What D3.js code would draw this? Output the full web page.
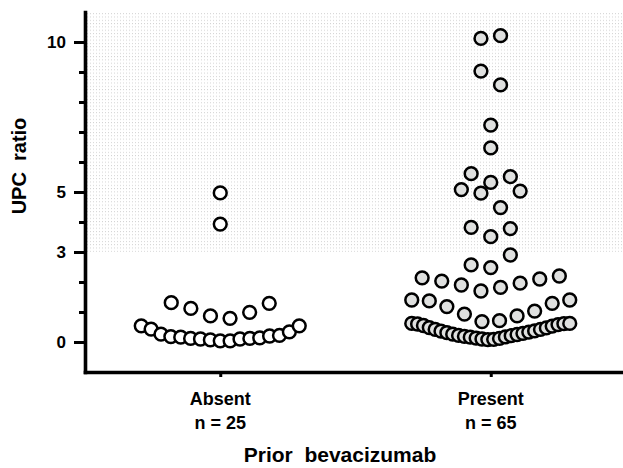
<!DOCTYPE html>
<html>
<head>
  <meta charset="utf-8">
  <style>
    body { margin: 0; background: #fff; }
    svg { display: block; }
    text { font-family: "Liberation Sans", Arial, sans-serif; font-weight: bold; fill: #000; }
    .axis path, .axis line { stroke: #000; }
    .dot { stroke: #000; stroke-width: 2.5; }
  </style>
</head>
<body>
<svg width="623" height="468"></svg>
<script src="https://cdn.jsdelivr.net/npm/d3@7"></script>
<script>

  // groups on the x axis, with the n shown under each label
  var groups = ["Absent", "Present"]
  var groupN = [25, 65]

  // UPC ratio values, one inner array per row of dots, read left to right
  var absentRows = [
    [0.54, 0.43, 0.26, 0.18, 0.16, 0.12, 0.10, 0.07, 0.04, 0.04, 0.10, 0.12, 0.14, 0.20, 0.22, 0.34, 0.54],
    [1.31, 1.12, 0.87, 0.79, 0.99, 1.29],
    [3.93],
    [4.97]
  ]
  var presentRows = [
    [0.62, 0.60, 0.55, 0.48, 0.42, 0.36, 0.31, 0.26, 0.22, 0.19, 0.16, 0.13, 0.10, 0.08,
     0.09, 0.12, 0.17, 0.21, 0.25, 0.29, 0.33, 0.37, 0.42, 0.47, 0.53, 0.58, 0.61, 0.62],
    [1.40, 1.37, 1.18, 0.93, 0.68, 0.71, 0.87, 1.03, 1.29, 1.40],
    [2.14, 2.03, 1.90, 1.70, 1.82, 1.96, 2.10, 2.20],
    [2.57, 2.48, 2.90],
    [3.82, 3.51, 3.78],
    [5.08, 4.96, 4.48, 5.03],
    [5.61, 5.32, 5.51],
    [6.47],
    [7.23],
    [9.03, 8.57],
    [10.12, 10.21]
  ]

  var majorTicks = [0, 3, 5, 10]
  var minorTicks = [1, 2, 4, 6, 7, 8, 9]
  var yDomain = [-1, 11]
  var shadeFrom = 3

  var svg = d3.select("svg"),
      plotLeft = 85, plotTop = 12, plotBottom = 372, plotRight = 623

  var y = d3.scaleLinear().domain(yDomain).range([plotBottom, plotTop])
  var x = d3.scalePoint().domain(groups).range([plotLeft, 626]).padding(0.5)

  // dotted shading of the upper band
  var pat = svg.append("defs").append("pattern")
      .attr("id", "dots")
      .attr("patternUnits", "userSpaceOnUse")
      .attr("width", 3).attr("height", 3.3)
  pat.append("rect").attr("width", 1).attr("height", 1).attr("fill", "#d2d2d2")

  svg.append("rect")
      .attr("x", plotLeft).attr("y", y(yDomain[1]))
      .attr("width", plotRight - plotLeft)
      .attr("height", y(shadeFrom) - y(yDomain[1]))
      .attr("fill", "url(#dots)")

  // dots: each row centred on its group, spread at a fixed step, squeezed if too wide
  var step = 19.6, maxWidth = 158
  function layout(rows, group) {
    var out = []
    rows.forEach(function(row) {
      var n = row.length
      var s = n > 1 ? Math.min(step, maxWidth / (n - 1)) : 0
      row.forEach(function(v, i) {
        out.push({group: group, value: v, dx: (i - (n - 1) / 2) * s})
      })
    })
    return out
  }
  var points = layout(absentRows, "Absent").concat(layout(presentRows, "Present"))

  svg.append("g").selectAll("circle")
    .data(points)
    .enter().append("circle")
      .attr("class", "dot")
      .attr("cx", function(d) { return x(d.group) + d.dx })
      .attr("cy", function(d) { return y(d.value) })
      .attr("r", 6.4)
      .attr("fill", function(d) { return d.group == "Absent" ? "#fff" : "#dfe0df" })

  // y axis
  var gyMinor = svg.append("g")
      .attr("class", "axis")
      .attr("transform", "translate(" + plotLeft + ",0)")
      .call(d3.axisLeft(y).tickValues(minorTicks).tickSize(6).tickFormat(""))
  gyMinor.select(".domain").remove()
  gyMinor.selectAll("line").attr("stroke-width", 3)

  var gy = svg.append("g")
      .attr("class", "axis")
      .attr("transform", "translate(" + plotLeft + ",0)")
      .call(d3.axisLeft(y).tickValues(majorTicks).tickSize(11).tickSizeOuter(0).tickPadding(8))
  gy.select(".domain").attr("stroke-width", 3.6).attr("stroke-linecap", "square")
  gy.selectAll("line").attr("stroke-width", 3)
  gy.selectAll("text").style("font-size", "17px").style("font-family", null)

  // x axis
  var gx = svg.append("g")
      .attr("class", "axis")
      .attr("transform", "translate(0," + plotBottom + ")")
      .call(d3.axisBottom(x).tickSize(5).tickSizeOuter(0).tickFormat(""))
  gx.select(".domain").attr("stroke-width", 3.6).attr("stroke-linecap", "square")
  gx.selectAll("line").attr("stroke-width", 3)

  // group labels
  var lab = svg.append("g").selectAll("g")
    .data(groups)
    .enter().append("g")
  lab.append("text")
      .attr("x", function(d) { return x(d) })
      .attr("y", 405)
      .attr("text-anchor", "middle")
      .style("font-size", "18px")
      .text(function(d) { return d })
  lab.append("text")
      .attr("x", function(d) { return x(d) })
      .attr("y", 429)
      .attr("text-anchor", "middle")
      .style("font-size", "18px")
      .text(function(d, i) { return "n = " + groupN[i] })

  // axis titles
  svg.append("text")
      .attr("x", 340).attr("y", 462)
      .attr("text-anchor", "middle")
      .style("font-size", "21px")
      .style("white-space", "pre")
      .text("Prior  bevacizumab")

  svg.append("text")
      .attr("transform", "translate(26,166) rotate(-90)")
      .attr("text-anchor", "middle")
      .style("font-size", "20px")
      .style("white-space", "pre")
      .text("UPC  ratio")

</script>
</body>
</html>
